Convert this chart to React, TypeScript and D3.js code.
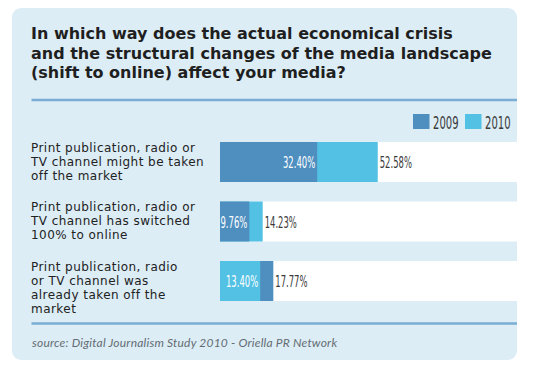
import React from 'react';
import * as d3 from 'd3';

const titleLines = [
  'In which way does the actual economical crisis',
  'and the structural changes of the media landscape',
  '(shift to online) affect your media?',
];
const categories = [
  ['Print publication, radio or', 'TV channel might be taken', 'off the market'],
  ['Print publication, radio or', 'TV channel has switched', '100% to online'],
  ['Print publication, radio', 'or TV channel was', 'already taken off the', 'market'],
];
const seriesNames = ['2009', '2010'];
const values2009 = [32.4, 9.76, 17.77];
const values2010 = [52.58, 14.23, 13.4];
const sourceText = 'source: Digital Journalism Study 2010 - Oriella PR Network';

const W = 534;
const H = 381;
const COLORS = ['#4f8fc0', '#52c1e4'];
const PANEL = '#dcedf6';
const RULE = '#7badd4';
const NARROW = "'Liberation Sans Narrow', 'DejaVu Sans Condensed', sans-serif";
const fmt = (v: number) => v.toFixed(2) + '%';

function Narrow({ x, y, size, anchor, fill, sx = 0.57, children }: any) {
  return (
    <text
      transform={`translate(${x},${y}) scale(${sx},1)`}
      textAnchor={anchor}
      fontFamily={NARROW}
      fontSize={size}
      fill={fill}
    >
      {children}
    </text>
  );
}

export default function App() {
  const panel = { x: 12, y: 8, r: 517, b: 360 };
  const x = d3.scaleLinear().domain([0, 100]).range([220, 520]);
  const y = d3.scalePoint<number>().domain(d3.range(categories.length)).range([142, 261]);
  const barH = 40;

  return (
    <svg width={W} height={H} style={{ position: 'absolute', left: 0, top: 0 }}>
      <rect x={panel.x} y={panel.y} width={panel.r - panel.x} height={panel.b - panel.y} rx={9} fill={PANEL} />
      <g fontFamily="'DejaVu Sans', Verdana, sans-serif" fontWeight="bold" fontSize={16} fill="#1f1f1f">
        {titleLines.map((t, i) => (
          <text key={i} x={31} y={39 + i * 19.6}>{t}</text>
        ))}
      </g>
      <line x1={31.5} x2={panel.r} y1={100} y2={100} stroke={RULE} strokeWidth={2.5} />

      {/* legend */}
      {seriesNames.map((s, i) => (
        <g key={s}>
          <rect x={413 + i * 52} y={114} width={16.5} height={15} fill={COLORS[i]} />
          <Narrow x={433 + i * 52} y={128.5} size={18} sx={0.62} anchor="start" fill="#3a3a3a">{s}</Narrow>
        </g>
      ))}

      {categories.map((lines, i) => {
        const top = y(i) as number;
        const v09 = values2009[i];
        const v10 = values2010[i];
        const segs = [
          { v: v09, c: COLORS[0] },
          { v: v10, c: COLORS[1] },
        ].sort((a, b) => b.v - a.v);
        const big = segs[0];
        const small = segs[1];
        return (
          <g key={i}>
            <g fontFamily="'DejaVu Sans', Verdana, sans-serif" fontSize={12} letterSpacing={0.45} fill="#222">
              {lines.map((l, j) => (
                <text key={j} x={31} y={top + 9.5 + j * 14}>{l}</text>
              ))}
            </g>
            <rect x={x(0)} y={top} width={panel.r - x(0)} height={barH} fill="#ffffff" />
            <rect x={x(0)} y={top} width={x(big.v) - x(0)} height={barH} fill={big.c} />
            <rect x={x(0)} y={top} width={x(small.v) - x(0)} height={barH} fill={small.c} />
            <Narrow x={x(small.v) - 2} y={top + 26.3} size={16.5} anchor="end" fill="#ffffff">{fmt(small.v)}</Narrow>
            <Narrow x={x(big.v) + 2} y={top + 26.3} size={16.5} anchor="start" fill="#3a3a3a">{fmt(big.v)}</Narrow>
          </g>
        );
      })}

      <line x1={31.5} x2={panel.r} y1={323.5} y2={323.5} stroke={RULE} strokeWidth={2.5} />
      <text x={32} y={347} fontFamily="Lato, 'Open Sans', sans-serif" fontStyle="italic" fontSize={12} fill="#646c72" letterSpacing={0.2}>
        {sourceText}
      </text>
    </svg>
  );
}
